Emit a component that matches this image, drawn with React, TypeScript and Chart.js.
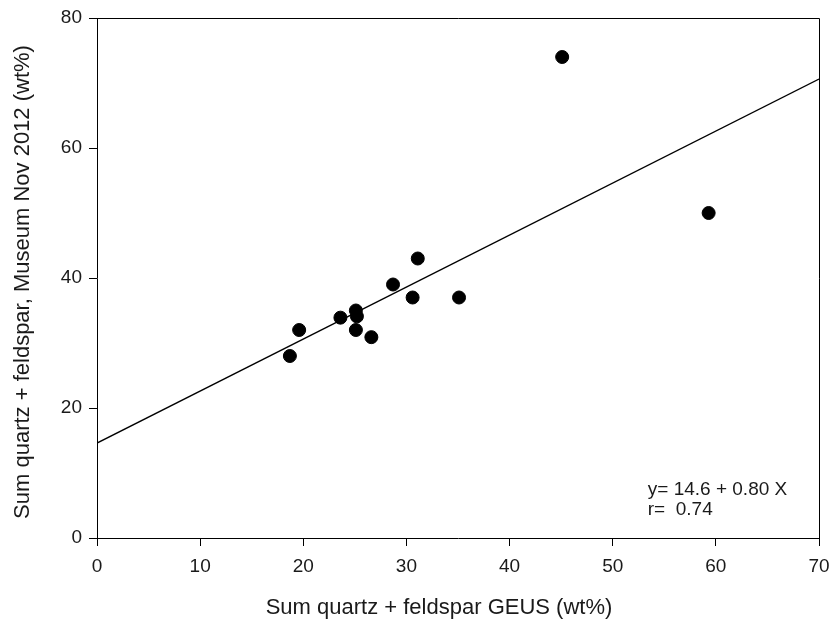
import React, { useEffect, useRef } from "react";
import { Chart, registerables } from "chart.js";

Chart.register(...registerables);

const geusValues = [18.7, 19.6, 23.6, 25.1, 25.2, 25.1, 26.6, 28.7, 30.6, 31.1, 35.1, 45.1, 59.3];
const museumValues = [28.0, 32.0, 33.9, 35.0, 34.1, 32.0, 30.9, 39.0, 37.0, 43.0, 37.0, 74.0, 50.0];
const fitIntercept = 14.6;
const fitSlope = 0.8;
const fitRange = [0, 70];
const xTicks = [0, 10, 20, 30, 40, 50, 60, 70];
const yTicks = [0, 20, 40, 60, 80];
const equationLines = ["y= 14.6 + 0.80 X", "r=  0.74"];
const xTitle = "Sum quartz + feldspar GEUS (wt%)";
const yTitle = "Sum quartz + feldspar, Museum Nov 2012 (wt%)";

const FONT = "'Liberation Sans', Arial, sans-serif";

export default function App() {
  const ref = useRef<HTMLCanvasElement | null>(null);

  useEffect(() => {
    if (!ref.current) return;
    const points = geusValues.map((x, i) => ({ x, y: museumValues[i] }));
    const fit = fitRange.map((x) => ({ x, y: fitIntercept + fitSlope * x }));

    const framePlugin = {
      id: "frame",
      afterDraw(chart: any) {
        const { ctx, chartArea } = chart;
        ctx.save();
        ctx.strokeStyle = "#000";
        ctx.lineWidth = 1;
        ctx.beginPath();
        ctx.moveTo(chartArea.left, chartArea.top + 0.5);
        ctx.lineTo(chartArea.right + 0.5, chartArea.top + 0.5);
        ctx.lineTo(chartArea.right + 0.5, chartArea.bottom);
        ctx.stroke();
        const xs = chart.scales.x;
        const ys = chart.scales.y;
        ctx.fillStyle = "#1a1a1a";
        // equation
        ctx.font = `19px ${FONT}`;
        ctx.textBaseline = "middle";
        ctx.textAlign = "left";
        const tx = xs.getPixelForValue(53.4);
        equationLines.forEach((line, i) => {
          ctx.fillText(line, tx, ys.getPixelForValue(7.4) + i * 20);
        });
        // axis titles
        ctx.font = `22px ${FONT}`;
        ctx.textAlign = "center";
        ctx.fillText(xTitle, 439, 608);
        ctx.save();
        ctx.translate(23, 282);
        ctx.rotate(-Math.PI / 2);
        ctx.fillText(yTitle, 0, 0);
        ctx.restore();
        ctx.restore();
      },
    };

    const chart = new Chart(ref.current, {
      type: "scatter",
      data: {
        datasets: [
          {
            type: "line",
            data: fit,
            borderColor: "#000",
            borderWidth: 1.3,
            pointRadius: 0,
            fill: false,
          } as any,
          {
            data: points,
            backgroundColor: "#000",
            borderColor: "#000",
            pointRadius: 6.5,
            pointHoverRadius: 6.5,
          },
        ],
      },
      options: {
        animation: false,
        responsive: false,
        events: [],
        layout: { padding: { top: 18, right: 10, left: 0, bottom: 0 } },
        plugins: { legend: { display: false }, tooltip: { enabled: false } },
        scales: {
          x: {
            type: "linear",
            min: 0,
            max: 70,
            afterBuildTicks: (s: any) => {
              s.ticks = xTicks.map((v) => ({ value: v }));
            },
            afterFit: (s: any) => {
              s.height = 86;
              s.paddingRight = 0;
              s.paddingLeft = 0;
            },
            border: { color: "#000", width: 1 },
            grid: { drawOnChartArea: false, drawTicks: true, tickLength: 8, color: "#000" },
            ticks: { color: "#1a1a1a", font: { family: FONT, size: 19 }, padding: 9, maxRotation: 0 },
          },
          y: {
            type: "linear",
            min: 0,
            max: 80,
            afterBuildTicks: (s: any) => {
              s.ticks = yTicks.map((v) => ({ value: v }));
            },
            afterFit: (s: any) => {
              s.width = 97;
              s.paddingTop = 0;
              s.paddingBottom = 0;
            },
            border: { color: "#000", width: 1 },
            grid: { drawOnChartArea: false, drawTicks: true, tickLength: 8, color: "#000" },
            ticks: { color: "#1a1a1a", font: { family: FONT, size: 19 }, padding: 7 },
          },
        },
      },
      plugins: [framePlugin],
    });
    return () => chart.destroy();
  }, []);

  return (
    <div style={{ position: "absolute", left: 0, top: 0, width: 829, height: 624, background: "#fff" }}>
      <canvas ref={ref} width={829} height={624} style={{ width: 829, height: 624 }} />
    </div>
  );
}
